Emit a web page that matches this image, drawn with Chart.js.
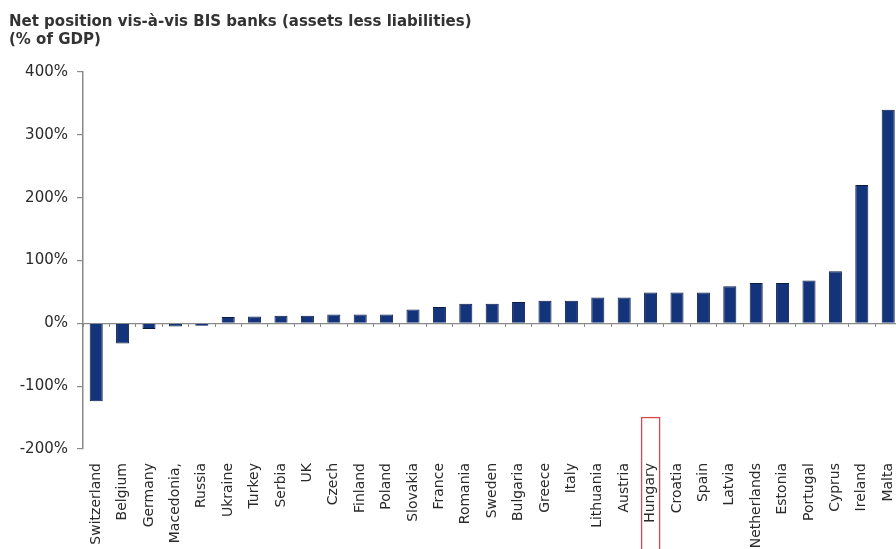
<!DOCTYPE html>
<html>
<head>
<meta charset="utf-8">
<script src="https://cdn.jsdelivr.net/npm/chart.js@4"></script>
<style>
  html, body { margin: 0; padding: 0; background: #fff; }
  body { width: 896px; height: 549px; overflow: hidden; position: relative; }
  #title {
    position: absolute; left: 9px; top: 12px; z-index: 2;
    font: bold 15px "DejaVu Sans", sans-serif; line-height: 18px; color: #333;
  }
  #wrap { position: absolute; left: 0; top: 0; width: 919px; height: 600px; }
</style>
</head>
<body>
<div id="title">Net position vis-à-vis BIS banks (assets less liabilities)<br>(% of GDP)</div>
<div id="wrap"><canvas id="barChart"></canvas></div>
<script>
const countries = [
  "Switzerland", "Belgium", "Germany", "Macedonia,", "Russia", "Ukraine",
  "Turkey", "Serbia", "UK", "Czech", "Finland", "Poland", "Slovakia",
  "France", "Romania", "Sweden", "Bulgaria", "Greece", "Italy", "Lithuania",
  "Austria", "Hungary", "Croatia", "Spain", "Latvia", "Netherlands",
  "Estonia", "Portugal", "Cyprus", "Ireland", "Malta",
];
const netPosition = [
  -124, -32, -9, -5, -4, 10, 11, 12, 12, 14, 14, 14, 22, 26, 31, 31, 34,
  36, 36, 41, 41, 49, 49, 49, 59, 64, 64, 68, 83, 220, 340,
];
const yTicks = [-200, -100, 0, 100, 200, 300, 400];
const highlighted = "Hungary";

const axisGrey = "#8a8a8a";

// red box round the highlighted country label
const highlightBox = {
  id: "highlightBox",
  afterDraw(chart) {
    const xs = chart.scales.x;
    const ys = chart.scales.y;
    const cx = xs.getPixelForValue(countries.indexOf(highlighted));
    const top = ys.getPixelForValue(-150);
    const ctx = chart.ctx;
    ctx.save();
    ctx.strokeStyle = "#e0474c";
    ctx.lineWidth = 1.3;
    ctx.strokeRect(cx - 9, top, 18, chart.height - top + 10);
    ctx.restore();
  },
};

const barCtx = document.getElementById("barChart").getContext("2d");
new Chart(barCtx, {
  type: "bar",
  data: {
    labels: countries,
    datasets: [
      {
        data: netPosition,
        backgroundColor: "#13337a",
        borderColor: "#0a1c45",
        borderWidth: 1,
        barPercentage: 0.55,
        categoryPercentage: 0.9,
      },
    ],
  },
  options: {
    responsive: true,
    maintainAspectRatio: false,
    animation: false,
    layout: { padding: { top: 72, right: 0, left: 0, bottom: 0 } },
    plugins: { legend: { display: false }, tooltip: { enabled: false } },
    scales: {
      x: {
        grid: { display: false, drawTicks: false },
        border: { display: false },
        ticks: {
          autoSkip: false,
          minRotation: 90,
          maxRotation: 90,
          padding: 14,
          color: "#2a2a2a",
          font: { family: "DejaVu Sans", size: 14 },
        },
        afterFit(scale) {
          scale.height = 151;
        },
      },
      xZero: {
        type: "category",
        labels: countries,
        position: { y: 0 },
        offset: true,
        grid: {
          offset: true,
          drawOnChartArea: false,
          tickLength: 4,
          color: axisGrey,
        },
        border: { display: false },
        ticks: { display: false },
      },
      y: {
        min: -200,
        max: 400,
        afterBuildTicks(scale) {
          scale.ticks = yTicks.map((v) => ({ value: v }));
        },
        grid: {
          color: (ctx) => (ctx.tick && ctx.tick.value === 0 ? axisGrey : "transparent"),
          tickColor: axisGrey,
          tickLength: 6,
          lineWidth: 1.2,
        },
        border: { display: true, color: axisGrey, width: 1.5 },
        ticks: {
          padding: 9,
          color: "#2a2a2a",
          font: { family: "DejaVu Sans", size: 15 },
          callback: (v) => v + "%",
        },
        afterFit(scale) {
          scale.width = 83;
        },
      },
    },
  },
  plugins: [highlightBox],
});
</script>
</body>
</html>
